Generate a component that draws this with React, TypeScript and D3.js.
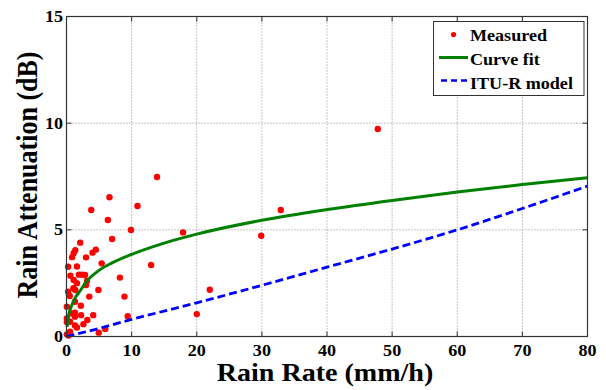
import React from "react";
import * as d3 from "d3";

// Measured data (rain rate mm/h, attenuation dB)
const measuredRate = [
  47.8, 13.9, 6.6, 10.9, 3.8, 32.9, 6.35, 9.9, 17.9, 29.9, 7.0, 2.1, 1.35, 4.5, 1.1, 4.0,
  0.85, 3.0, 5.4, 13.0, 0.25, 1.6, 1.9, 2.4, 2.85, 0.6, 1.1, 3.15, 8.2, 1.6, 3.0, 1.05,
  4.9, 1.35, 0.25, 0.5, 3.5, 8.9, 22.0, 1.3, 2.2, 0.05, 1.3, 0.8, 4.1, 2.25, 9.4, 20.0,
  0.05, 0.05, 3.2, 2.6, 1.3, 1.6, 4.95, 5.95, 0.55, 0.05, 0.3, 1.3, 0.54,
];
const measuredAtt = [
  9.73, 7.48, 6.53, 6.12, 5.93, 5.93, 5.46, 4.99, 4.88, 4.72, 4.57, 4.4, 4.05, 4.07, 3.9, 3.93,
  3.72, 3.71, 3.43, 3.35, 3.27, 3.28, 2.9, 2.9, 2.88, 2.85, 2.65, 2.6, 2.76, 2.5, 2.41, 2.26,
  2.18, 2.18, 2.1, 1.9, 1.87, 1.87, 2.19, 1.63, 1.44, 1.4, 1.12, 1.08, 1.0, 1.0, 0.95, 1.05,
  0.85, 0.68, 0.77, 0.58, 0.52, 0.42, 0.18, 0.35, 0.22, 0.1, 0.05, 0.93, 0.69,
];

// Curve fit
const fitRate = [0.1, 0.3, 0.6, 1, 1.5, 2, 3, 5, 7, 10, 15, 20, 30, 40, 50, 60, 70, 80];
const fitAtt = [0.45, 0.95, 1.3, 1.6, 1.9, 2.1, 2.55, 3.1, 3.45, 3.85, 4.38, 4.8, 5.45, 5.95, 6.38, 6.77, 7.12, 7.44];

// ITU-R model
const ituRate = [0, 5, 10, 20, 30, 40, 50, 60, 70, 80];
const ituAtt = [0, 0.38, 0.8, 1.58, 2.4, 3.25, 4.1, 5.0, 6.0, 7.05];

const xTicks = [0, 10, 20, 30, 40, 50, 60, 70, 80];
const yTicks = [0, 5, 10, 15];

const W = 606;
const H = 390;
const L = 66.5, R = 587.5, T = 16.5, B = 336.5;
const SX = 1.13; // horizontal glyph stretch
const FONT = "'Liberation Serif', 'Times New Roman', serif";

function Txt({ x, y, size, anchor = "start", children, sx = SX }: any) {
  return (
    <text
      transform={`translate(${x},${y}) scale(${sx},1)`}
      fontFamily={FONT}
      fontWeight="bold"
      fontSize={size}
      textAnchor={anchor}
      fill="#000"
    >
      {children}
    </text>
  );
}

export default function App() {
  const x = d3.scaleLinear().domain([0, 80]).range([L, R]);
  const y = d3.scaleLinear().domain([0, 15]).range([B, T]);

  const fitLine = d3
    .line<number>()
    .x((_, i) => x(fitRate[i]))
    .y((d) => y(d))
    .curve(d3.curveMonotoneX)(fitAtt) as string;
  const ituLine = d3
    .line<number>()
    .x((_, i) => x(ituRate[i]))
    .y((d) => y(d))
    .curve(d3.curveMonotoneX)(ituAtt) as string;

  return (
    <svg
      width={W}
      height={H}
      style={{ position: "absolute", left: 0, top: 0, background: "#fff" }}
    >
      <rect x={0} y={0} width={W} height={H} fill="#fff" />
      {/* grid */}
      {xTicks
        .filter((t) => t > 0 && t < 80)
        .map((t) => (
          <line key={"gx" + t} x1={x(t)} x2={x(t)} y1={T} y2={B} stroke="#8a8a8a" strokeWidth={1} strokeDasharray="1 2" />
        ))}
      {yTicks
        .filter((t) => t > 0 && t < 15)
        .map((t) => (
          <line key={"gy" + t} x1={L} x2={R} y1={y(t)} y2={y(t)} stroke="#8a8a8a" strokeWidth={1} strokeDasharray="1 2" />
        ))}
      {/* ticks */}
      {xTicks.map((t) => (
        <g key={"tx" + t}>
          <line x1={x(t)} x2={x(t)} y1={B} y2={B - 5} stroke="#333" />
          <line x1={x(t)} x2={x(t)} y1={T} y2={T + 5} stroke="#333" />
        </g>
      ))}
      {yTicks.map((t) => (
        <g key={"ty" + t}>
          <line x1={L} x2={L + 5} y1={y(t)} y2={y(t)} stroke="#333" />
          <line x1={R} x2={R - 5} y1={y(t)} y2={y(t)} stroke="#333" />
        </g>
      ))}
      {/* data */}
      {measuredRate.map((r, i) => (
        <circle key={"m" + i} cx={x(r)} cy={y(measuredAtt[i])} r={3.2} fill="#ff0000" />
      ))}
      <path d={fitLine} fill="none" stroke="#008000" strokeWidth={3} />
      <path d={ituLine} fill="none" stroke="#0000ff" strokeWidth={2.8} strokeDasharray="8 4" />
      {/* box */}
      <rect x={L} y={T} width={R - L} height={B - T} fill="none" stroke="#333" strokeWidth={1.2} />
      {/* tick labels */}
      {xTicks.map((t) => (
        <Txt key={"lx" + t} x={x(t)} y={356} size={16} anchor="middle">
          {t}
        </Txt>
      ))}
      {yTicks.map((t) => (
        <Txt key={"ly" + t} x={63} y={y(t) + 5.5} size={16} anchor="end">
          {t}
        </Txt>
      ))}
      {/* axis titles */}
      <Txt x={325} y={381} size={25.5} anchor="middle" sx={1.1}>
        Rain Rate (mm/h)
      </Txt>
      <text
        transform={`translate(37,175) scale(1.1,1) rotate(-90)`}
        fontFamily={FONT}
        fontWeight="bold"
        fontSize={26}
        textAnchor="middle"
        fill="#000"
      >
        Rain Attenuation (dB)
      </text>
      {/* legend */}
      <rect x={433.5} y={21.5} width={150.5} height={74} fill="#fff" stroke="#333" strokeWidth={1} />
      <circle cx={453.5} cy={34.5} r={2.6} fill="#ff0000" />
      <Txt x={470} y={41} size={16}>Measured</Txt>
      <line x1={439} x2={468} y1={57.5} y2={57.5} stroke="#008000" strokeWidth={3} />
      <Txt x={470} y={65} size={16}>Curve fit</Txt>
      <line x1={441} x2={469} y1={80.5} y2={80.5} stroke="#0000ff" strokeWidth={2.6} strokeDasharray="6 4" />
      <Txt x={470} y={89} size={16}>ITU-R model</Txt>
    </svg>
  );
}
